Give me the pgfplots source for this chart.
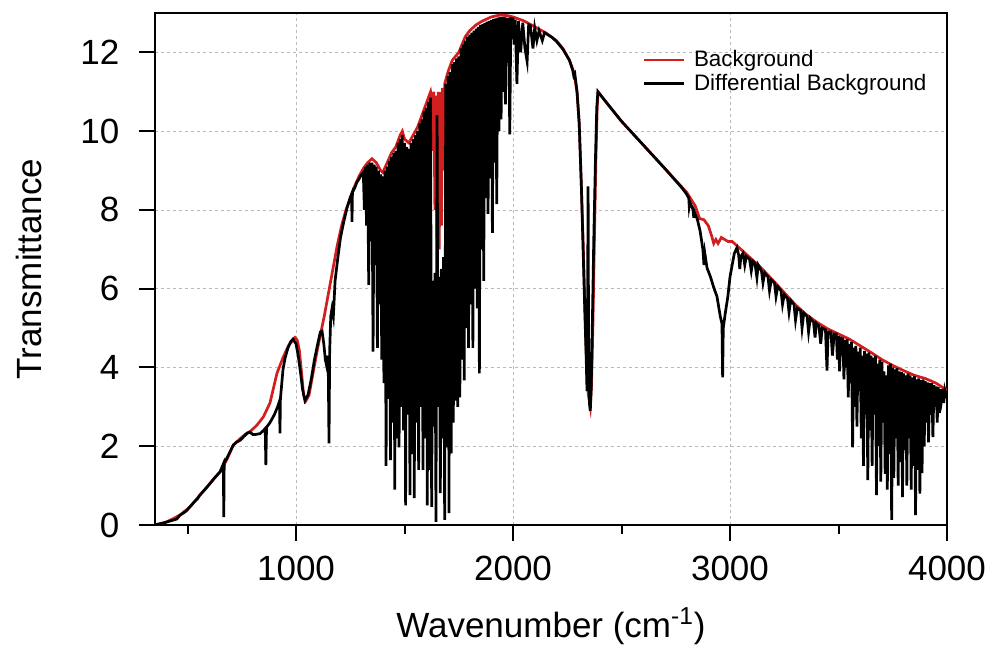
\documentclass[border=0pt]{standalone}
\usepackage{fontspec}
\setmainfont{Liberation Sans}
\usepackage{pgfplots}
\pgfplotsset{compat=1.18}
\definecolor{bgred}{RGB}{210,30,30}
\begin{document}
\begin{tikzpicture}
\begin{axis}[
  scale only axis,
  width=396pt, height=256pt,
  xmin=350, xmax=4000, ymin=0, ymax=13,
  xtick={1000,2000,3000,4000},
  minor xtick={500,1500,2500,3500},
  ytick={0,2,4,6,8,10,12},
  xtick pos=left, ytick pos=left,
  tick align=outside,
  major tick length=7.8pt, minor tick length=4.5pt,
  every tick/.style={black, line width=1pt},
  axis line style={line width=1pt},
  xmajorgrids, ymajorgrids,
  major grid style={gray!55, dash pattern=on 1.5pt off 1.5pt, line width=0.4pt},
  scaled ticks=false,
  /pgf/number format/assume math mode=true,
  /pgf/number format/1000 sep={},
  ticklabel style={font=\fontsize{17.5}{20}\selectfont},
  xticklabel style={yshift=-4pt},
  yticklabel style={xshift=-6.5pt},
  xlabel={Wavenumber (cm\textsuperscript{-1})},
  ylabel={Transmittance},
  label style={font=\fontsize{17.5}{20}\selectfont},
  xlabel style={at={(axis description cs:0.5,-0.21875)}, anchor=base},
  ylabel style={at={(axis description cs:-0.1427,0.5)}, anchor=base},
  legend style={at={(axis description cs:0.608,0.94)}, anchor=north west,
    draw=none, fill=none, font=\fontsize{11.2}{13}\selectfont,
    row sep=-0.2pt, column sep=3pt, nodes={inner sep=1.2pt}},
  legend cell align=left,
  legend image code/.code={\draw[#1] (0pt,0pt) -- (20pt,0pt);},
]
\coordinate (bbA) at (rel axis cs:-0.1957,-0.2422);
\coordinate (bbB) at (rel axis cs:1.0543,1.0254);

\addplot[color=bgred, line width=1.35pt] coordinates {
(350,0)(400,0.07)(465,0.25)(511,0.46)(557,0.76)(603,1.05)(650,1.35)(680,1.65)(711,2.03)(742,2.19)(770,2.32)(790,2.38)(819,2.53)(849,2.74)(880,3.1)(912,3.85)(940,4.25)(965,4.55)(995,4.76)(1005,4.7)(1015,4.45)(1025,3.9)(1035,3.3)(1045,3.15)(1060,3.3)(1080,3.9)(1100,4.5)(1115,4.9)(1130,5.3)(1150,5.9)(1170,6.5)(1190,7.1)(1210,7.6)(1230,8.0)(1250,8.3)(1270,8.6)(1290,8.85)(1310,9.05)(1330,9.2)(1350,9.3)(1370,9.2)(1390,9.0)(1400,8.95)(1420,9.2)(1440,9.45)(1460,9.6)(1480,9.9)(1490,10.0)(1500,9.8)(1520,9.7)(1540,9.9)(1560,10.1)(1580,10.4)(1600,10.7)(1620,11.0)
(1625,10.8)(1630,9.5)(1635,11.0)(1640,8.0)(1645,10.9)(1650,7.3)(1655,11.0)(1660,7.0)(1665,11.0)(1670,7.6)(1675,11.1)(1680,9.0)(1685,11.2)
(1700,11.5)(1720,11.8)(1750,12.0)(1780,12.4)(1800,12.55)(1830,12.7)(1860,12.8)(1900,12.9)(1940,12.95)(1980,12.93)(2000,12.9)(2050,12.8)(2100,12.65)(2150,12.5)(2200,12.3)(2230,12.1)(2260,11.8)(2280,11.5)(2295,11.0)(2305,10.2)(2315,8.6)(2323,7.2)(2330,5.8)(2337,4.4)(2343,3.5)(2350,3.2)(2356,3.0)(2362,3.6)(2368,5.0)(2375,7.2)(2382,9.3)(2388,10.6)(2392,11.0)(2420,10.8)(2500,10.25)(2600,9.65)(2700,9.05)(2800,8.45)(2840,8.1)(2860,7.78)(2880,7.75)(2900,7.6)(2915,7.35)(2925,7.15)(2935,7.25)(2945,7.15)(2960,7.3)(2975,7.25)(2990,7.2)(3010,7.2)(3030,7.1)(3060,6.95)(3100,6.75)(3140,6.55)(3200,6.2)(3250,5.9)(3300,5.6)(3350,5.35)(3400,5.15)(3450,4.98)(3500,4.85)(3550,4.72)(3600,4.55)(3650,4.38)(3700,4.2)(3750,4.05)(3800,3.92)(3850,3.8)(3900,3.72)(3950,3.6)(4000,3.42)
};
\addlegendentry{Background}

\addplot[color=black, line width=1.35pt] coordinates {
(350,0)(400,0.07)(450,0.15)(465,0.25)(480,0.3)(495,0.36)(511,0.46)(530,0.58)(545,0.66)(557,0.76)(580,0.9)(603,1.05)(625,1.2)(650,1.35)(665,1.55)(667,0.2)(669,1.58)(680,1.68)(695,1.85)(711,2.03)(725,2.1)(742,2.15)(760,2.25)(775,2.33)(788,2.36)(800,2.3)(815,2.3)(834,2.32)(850,2.4)(858,2.45)(861,1.52)(864,2.48)(880,2.6)(900,2.8)(915,3.0)(924,3.15)(926,2.33)(928,3.2)(940,3.95)(950,4.25)(963,4.5)(975,4.65)(986,4.72)(1000,4.6)(1010,4.3)(1020,3.9)(1030,3.45)(1041,3.16)(1055,3.3)(1070,3.7)(1085,4.2)(1100,4.6)(1112,4.9)(1120,4.92)(1128,4.6)(1135,4.2)(1142,4.02)(1148,4.3)(1152,2.07)(1155,4.4)(1160,5.3)(1166,5.5)(1172,5.3)(1180,6.2)(1193,6.8)(1205,7.3)(1220,7.7)(1235,8.05)(1249,8.3)(1256,8.4)(1258,7.7)(1260,8.45)(1270,8.55)(1280,8.7)(1290,8.78)(1300,8.88)
(1310,8.95)(1315,8.0)(1320,9.1)(1325,7.6)(1330,9.15)(1335,6.1)(1340,9.2)(1345,7.2)(1350,9.2)(1355,4.4)(1360,9.15)(1365,6.6)(1370,9.1)(1375,4.5)(1380,9.0)(1385,5.6)(1390,8.9)(1395,4.2)(1400,8.85)(1405,3.6)(1410,9.0)(1415,1.5)(1420,9.1)(1425,3.2)(1430,9.25)(1435,1.65)(1440,9.35)(1445,2.6)(1450,9.45)(1455,0.9)(1460,9.5)(1465,2.2)(1470,9.7)(1475,1.97)(1480,9.8)(1485,3.0)(1490,9.9)(1495,2.4)(1500,9.7)(1505,0.5)(1510,9.6)(1515,2.8)(1520,9.55)(1525,0.76)(1530,9.7)(1535,1.8)(1540,9.8)(1545,0.68)(1550,9.9)(1555,2.6)(1560,10.0)(1565,1.4)(1570,10.2)(1575,3.0)(1580,10.3)(1585,1.4)(1590,10.5)(1595,2.2)(1600,10.6)(1605,0.5)(1610,10.75)(1615,1.4)(1620,10.85)
(1625,0.46)(1630,6.2)(1635,2.5)(1640,6.4)(1645,0.08)(1650,10.4)(1655,3.0)(1660,6.3)(1665,0.81)(1670,6.5)(1675,2.2)(1680,6.8)(1685,0.13)
(1690,11.2)(1695,1.97)(1700,11.4)(1705,0.3)(1710,11.5)(1715,1.82)(1720,11.7)(1725,2.6)(1730,11.75)(1735,3.16)(1740,11.85)(1745,3.0)(1750,11.9)(1755,3.24)(1760,12.1)(1765,4.2)(1770,12.2)(1775,3.67)(1780,12.3)(1785,5.0)(1790,12.4)(1795,4.5)(1800,12.45)(1805,5.6)(1810,12.5)(1815,4.5)(1820,12.55)(1825,6.0)(1830,12.6)(1835,5.5)(1840,12.65)(1845,3.85)(1850,12.7)(1855,7.0)(1860,12.72)(1865,6.2)(1870,12.75)(1875,8.3)(1880,12.78)(1885,7.9)(1890,12.8)(1895,8.8)(1900,12.82)(1905,7.42)(1910,12.85)(1915,9.2)(1920,12.86)(1925,8.15)(1930,12.88)(1935,10.0)(1940,12.9)(1945,10.3)(1950,12.9)(1955,11.0)(1960,12.9)(1965,10.68)(1970,12.88)(1975,11.8)(1980,12.88)(1985,9.92)(1990,12.86)
(2000,12.85)(2005,12.2)(2010,12.83)(2018,11.2)(2025,12.8)(2035,12.0)(2045,12.75)(2055,12.1)(2065,11.77)(2072,12.7)(2080,12.68)(2092,12.1)(2100,12.62)(2110,12.3)(2120,12.55)(2135,12.3)(2145,12.5)(2160,12.45)(2180,12.38)(2200,12.28)(2230,12.08)(2260,11.8)(2275,11.55)(2280,11.4)(2285,11.45)(2295,11.0)(2305,10.2)(2315,8.6)(2323,7.0)(2330,5.6)(2337,4.3)(2341,3.4)(2344,6.0)(2346,8.6)(2348,5.0)(2352,3.1)(2356,2.9)(2360,3.4)(2365,4.9)(2372,7.2)(2380,9.3)(2386,10.6)(2391,11.0)(2420,10.8)(2500,10.25)(2600,9.65)(2700,9.05)(2780,8.55)(2800,8.4)(2810,8.3)(2812,8.1)(2815,8.2)(2830,8.0)(2833,7.8)(2836,7.95)(2850,7.75)(2862,7.47)(2875,7.0)(2880,6.6)(2884,6.9)(2894,6.53)(2910,6.3)(2925,6.03)(2940,5.8)(2955,5.3)(2963,5.11)(2966,3.75)(2969,5.0)(2978,5.37)(2990,5.8)(3000,6.3)(3010,6.6)(3020,6.9)(3032,7.04)(3040,6.85)(3045,6.5)(3050,6.82)(3060,6.9)(3068,6.6)(3075,6.82)(3090,6.75)(3098,6.45)(3105,6.7)(3115,6.65)(3124,6.28)(3130,6.6)(3145,6.45)(3152,6.15)(3160,6.4)(3175,6.3)(3182,5.95)(3190,6.22)(3205,6.15)(3212,5.8)(3220,6.05)(3235,5.95)(3242,5.6)(3250,5.85)(3265,5.75)(3272,5.4)(3280,5.7)(3295,5.6)(3302,5.2)(3310,5.5)(3325,5.45)(3332,5.0)(3340,5.38)(3355,5.3)(3362,4.9)(3370,5.25)(3385,5.15)(3392,4.76)(3398,5.12)(3410,5.05)(3418,4.6)(3425,5.0)(3440,4.96)(3447,3.92)(3452,4.9)(3465,4.9)(3472,4.3)(3480,4.85)
(3490,4.85)(3495,4.2)(3500,4.8)(3505,3.9)(3510,4.78)(3515,4.3)(3520,4.76)(3525,3.7)(3530,4.7)(3535,4.0)(3540,4.72)(3545,3.24)(3550,4.6)(3555,3.6)(3560,4.65)(3565,1.97)(3570,4.5)(3575,3.0)(3580,4.55)(3585,2.5)(3590,4.4)(3595,3.4)(3600,4.5)(3605,2.2)(3610,4.3)(3615,1.5)(3620,4.42)(3625,2.8)(3630,4.35)(3635,1.14)(3640,4.38)(3645,2.4)(3650,4.3)(3655,1.5)(3660,4.25)(3665,2.9)(3670,4.3)(3675,0.76)(3680,4.1)(3685,2.0)(3690,4.2)(3695,1.1)(3700,4.15)(3705,2.6)(3710,3.9)(3715,1.3)(3720,3.8)(3725,0.9)(3730,4.05)(3735,1.8)(3740,4.1)(3745,0.13)(3750,4.0)(3755,1.2)(3760,3.95)(3765,2.2)(3770,3.98)(3775,1.0)(3780,3.9)(3785,1.6)(3790,3.88)(3795,0.71)(3800,3.85)(3805,1.9)(3810,3.8)(3815,1.0)(3820,3.85)(3825,2.2)(3830,3.8)(3835,0.9)(3840,3.75)(3845,1.5)(3850,3.78)(3855,0.25)(3860,3.7)(3865,1.4)(3870,3.72)(3875,0.8)(3880,3.68)(3885,1.32)(3890,3.7)(3895,2.0)(3900,3.65)(3905,2.6)(3910,3.62)(3915,2.1)(3920,3.6)(3925,2.8)(3930,3.6)(3935,2.23)(3940,3.55)(3945,3.0)(3950,3.52)(3955,2.6)(3960,3.5)(3965,2.84)(3970,3.45)(3975,3.2)(3980,3.45)(3985,3.1)(3990,3.42)(3995,3.3)(4000,3.35)
};
\addlegendentry{Differential Background}
\end{axis}
\pgfresetboundingbox
\path (bbA) rectangle (bbB);
\end{tikzpicture}
\end{document}
